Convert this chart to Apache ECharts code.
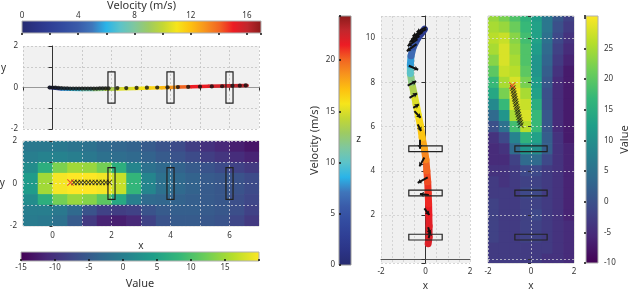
<!DOCTYPE html>
<html><head><meta charset="utf-8">
<script src="https://cdn.jsdelivr.net/npm/echarts@6/dist/echarts.min.js"></script>
<style>html,body{margin:0;padding:0;background:#fff}#c{width:640px;height:307px}</style>
</head><body><div id="c"></div>
<script>
// ---------------- DATA ----------------
// Top-left panel: trajectory (x, y, velocity)
const trajAX = [-0.1, 0.1, 0.3, 0.6, 1.0, 1.4, 1.8, 2.2, 2.8, 3.3, 3.7, 4.0, 4.3, 4.7, 5.3, 6.0, 6.6];
const trajAY = [0, -0.04, -0.07, -0.09, -0.1, -0.1, -0.09, -0.07, -0.05, -0.03, -0.01, 0, 0.02, 0.04, 0.06, 0.08, 0.1];
const trajAV = [1, 3, 5.5, 6.5, 7.5, 8.5, 9.5, 10.5, 11, 11.5, 12.2, 13, 14, 15, 15.5, 16, 16.5];
const dotsAX = [-0.1, 0.0, 0.1, 0.2, 0.3, 0.4, 0.5, 0.6, 0.7, 0.8, 0.9, 1.0, 1.1, 1.2, 1.3, 1.4, 1.5, 1.6, 1.7, 1.8, 1.9, 2.2, 2.5, 2.85, 3.2, 3.55, 3.9, 4.25, 4.6, 5.0, 5.4, 5.75, 6.1, 6.35, 6.55];
const dotsAY = [0, 0, -0.01, -0.02, -0.03, -0.04, -0.04, -0.05, -0.05, -0.05, -0.05, -0.05, -0.05, -0.05, -0.05, -0.05, -0.05, -0.04, -0.04, -0.04, -0.04, -0.03, -0.03, -0.02, -0.01, 0, 0.01, 0.02, 0.03, 0.04, 0.05, 0.06, 0.08, 0.09, 0.1];
// boxes in the horizontal panels (centres along x)
const boxHX = [2, 4, 6];
const boxHHalfW = 0.12, boxHHalfH = 0.75;

// Bottom-left heat map (cell centres and values)
const heatBX = [-0.75, -0.25, 0.25, 0.75, 1.25, 1.75, 2.25, 2.75, 3.25, 3.75, 4.25, 4.75, 5.25, 5.75, 6.25, 6.75];
const heatBY = [1.75, 1.25, 0.75, 0.25, -0.25, -0.75, -1.25, -1.75];
const heatBV = [
  [-1, -1, -1, -1.5, -2, -3, -3.5, -4, -5, -6, -7, -8.5, -10, -11, -12, -13],
  [0, 0.5, 0.5, 0, -1, -2, -2.5, -3, -4, -5, -6, -7, -8.5, -9.5, -10.5, -11.5],
  [2, 7, 13, 15, 14.5, 12.5, 7, 1, -2, -3, -4, -5, -6, -7, -8, -9],
  [4, 15, 19.5, 20, 20, 19.5, 17, 8, 1, -2, -3, -4, -5, -5.5, -6, -7],
  [4, 15, 19.5, 20, 20, 19.5, 17, 8, 1, -2, -3, -4, -5, -5.5, -6, -7],
  [2, 7, 12.5, 14.5, 13.5, 11, 6, 0, -3, -3.5, -4, -4.5, -5, -5.5, -6.5, -7.5],
  [0, 0, -1, -3, -6, -8, -8.5, -8, -6, -5, -4.5, -4.5, -5, -5.5, -6.5, -8],
  [-0.5, -1, -2, -5, -9, -11.5, -12, -11, -8, -6, -5, -5, -5.5, -6, -7.5, -9]
];
const crossBX = [0.73, 0.85, 0.97, 1.09, 1.21, 1.33, 1.45, 1.57, 1.69, 1.81, 1.93];
const crossBY = [0.05, 0.05, 0.05, 0.05, 0.05, 0.05, 0.05, 0.05, 0.05, 0.05, 0.05];
const startB = [0.61, 0.05];

// Middle panel: trajectory (x, z, velocity) and arrows
const trajCX = [0.12, 0.16, 0.16, 0.15, 0.14, 0.12, 0.1, 0.06, 0.02, -0.05, -0.15, -0.22, -0.32, -0.42, -0.52, -0.62, -0.68, -0.68, -0.65, -0.55, -0.35, -0.2, -0.05];
const trajCZ = [0.7, 1.0, 1.5, 2.0, 2.5, 3.0, 3.5, 4.0, 4.5, 5.0, 5.5, 6.0, 6.5, 7.0, 7.5, 8.0, 8.4, 8.8, 9.2, 9.6, 10.0, 10.2, 10.4];
const trajCV = [22, 22, 21.8, 21.5, 21.2, 21, 20.5, 20, 19, 18, 17, 16.3, 15.5, 15, 13.5, 12, 10, 8, 6.5, 5, 3.5, 2.5, 2];
const arrX0 = [0.04, 0.04, -0.13, -0.27, -0.36, -0.4, -0.75, -0.8, -0.72, -0.55, -0.5, -0.35, -0.25, -0.05, 0.1, 0.15, -0.05, 0.12, 0.14];
const arrZ0 = [10.5, 10.41, 10.27, 10.09, 9.95, 9.73, 8.75, 7.85, 7.3, 6.85, 6.7, 6.1, 5.4, 4.6, 3.7, 2.9, 2.3, 1.45, 0.95];
const arrX1 = [-0.4, -0.58, -0.62, -0.71, -0.8, -0.84, -0.33, -0.42, -0.38, -0.3, -0.22, -0.2, -0.25, -0.27, -0.35, -0.25, 0.17, 0.2, 0.22];
const arrZ1 = [10.27, 10.09, 9.95, 9.82, 9.64, 9.41, 8.57, 8.05, 7.5, 7.0, 6.4, 5.8, 5.0, 4.2, 3.45, 2.95, 2.0, 1.15, 1.25];
// boxes in the vertical panels (centres along z)
const boxVZ = [5, 3, 1];
const boxVHalfW = 0.75, boxVHalfH = 0.13;

// Right panel heat map
const heatDX = [-1.75, -1.25, -0.75, -0.25, 0.25, 0.75, 1.25, 1.75];
const heatDZ = [11, 10.5, 10, 9.5, 9, 8.5, 8, 7.5, 7, 6.5, 6, 5.5, 5, 4.5, 4, 3.5, 3, 2.5, 2, 1.5, 1, 0.5, 0];
const heatDV = [
  [24, 22, 19, 16, 12, 6, 1, -2],
  [25, 24, 21, 17, 13, 6, 0, -3],
  [26, 27, 23, 18, 13, 5, -1, -4],
  [25, 28, 24, 19, 12, 4, -2, -5],
  [23, 28, 25, 19, 11, 3, -3, -6],
  [20, 27, 26, 20, 11, 2, -4, -7],
  [17, 25, 28, 22, 12, 1, -5, -7],
  [14, 22, 29, 25, 13, 0, -5, -7],
  [9, 17, 28, 27, 15, 0, -5, -7],
  [4, 11, 25, 28, 17, 1, -5, -7],
  [0, 5, 18, 26, 17, 1, -5, -7],
  [-4, -1, 8, 16, 13, 2, -4, -7],
  [-5, -4, 4, 11, 10, 2, -4, -6],
  [-5, -5, -2, 4, 4, -1, -4, -6],
  [-4, -4, -3, -1, -1, -3, -4, -6],
  [-3, -4, -3, -2, -2, -3, -4, -6],
  [-3, -3, -3, -1, -1, -3, -4, -6],
  [-2, -3, -3, -2, -2, -3, -4, -6],
  [-2, -3, -3, -2, -1, -3, -4, -6],
  [-2, -3, -3, -2, -2, -3, -4, -5],
  [-2, -3, -3, -2, -2, -3, -4, -5],
  [-3, -3, -3, -3, -3, -3, -4, -5],
  [-3, -3, -3, -3, -3, -4, -4, -5]
];
const crossDX = [-0.85, -0.82, -0.8, -0.77, -0.75, -0.72, -0.7, -0.67, -0.64, -0.62, -0.59, -0.56, -0.53, -0.5, -0.47];
const crossDZ = [7.74, 7.62, 7.5, 7.38, 7.26, 7.14, 7.02, 6.9, 6.78, 6.66, 6.54, 6.42, 6.3, 6.18, 6.06];
const startD = [-0.87, 7.86];

// Tick labels
const ticksVelTop = [0, 4, 8, 12, 16];
const ticksValBottom = [-15, -10, -5, 0, 5, 10, 15];
const ticksVelMid = [0, 5, 10, 15, 20];
const ticksValRight = [-10, -5, 0, 5, 10, 15, 20, 25];
const ticksXLeft = [0, 2, 4, 6];
const ticksYLeft = [-2, 0, 2];
const ticksXRight = [-2, 0, 2];
const ticksZ = [2, 4, 6, 8, 10];
// colour-scale ranges
const velTopRange = [0, 17], valBottomRange = [-15, 20], velMidRange = [0, 24.3], valRightRange = [-10, 30.3];

// ---------------- STYLE ----------------
const FONT = 'Noto Sans';
const TXT = '#333';
const jet = ['#262b70','#2b3486','#2f3f95','#334ca0','#3a5ba9','#3f76bb','#2ab4e8','#5cc3c9','#7fc79e','#9dcb63','#c3d734','#f6e51b','#fdc010','#f7941d','#f26522','#ed1c24','#c1272d','#8b1a1a'];
const viridis = ['#440154','#482878','#3e4989','#31688e','#26828e','#1f9e89','#35b779','#6ece58','#b5de2b','#fde725'];
function grad(colors, vertical) {
  const n = colors.length;
  return new echarts.graphic.LinearGradient(0, vertical ? 1 : 0, vertical ? 0 : 1, 0,
    colors.map((c, i) => ({ offset: i / (n - 1), color: c })));
}
const only = list => v => { const r = Math.round(v * 1000) / 1000; return list.indexOf(r) >= 0 ? String(r === 0 ? 0 : r) : ''; };
const lbl = (list, extra) => Object.assign({ show: true, formatter: only(list), fontSize: 8, color: TXT, fontFamily: FONT, margin: 5 }, extra || {});
const dashed = (c) => ({ show: true, lineStyle: { type: [2, 2], color: c, width: 0.8 } });

// ---------------- BUILD SERIES DATA ----------------
const segA = []; for (let i = 0; i < trajAX.length - 1; i++) segA.push([trajAX[i], trajAY[i], trajAX[i + 1], trajAY[i + 1], trajAV[i]]);
const segC = []; for (let i = 0; i < trajCX.length - 1; i++) segC.push([trajCX[i], trajCZ[i], trajCX[i + 1], trajCZ[i + 1], trajCV[i]]);
const heatB = []; heatBY.forEach((y, r) => heatBX.forEach((x, c) => heatB.push([x, y, heatBV[r][c]])));
const heatD = []; heatDZ.forEach((z, r) => heatDX.forEach((x, c) => heatD.push([x, z, heatDV[r][c]])));
const boxesH = boxHX.map(x => [x - boxHHalfW, -boxHHalfH, x + boxHHalfW, boxHHalfH]);
const boxesV = boxVZ.map(z => [-boxVHalfW, z - boxVHalfH, boxVHalfW, z + boxVHalfH]);
const arrows = arrX0.map((x, i) => ({ coords: [[x, arrZ0[i]], [arrX1[i], arrZ1[i]]] }));
const dotsA = dotsAX.map((x, i) => [x, dotsAY[i]]);
const crossB = crossBX.map((x, i) => [x, crossBY[i]]);
const crossD = crossDX.map((x, i) => [x, crossDZ[i]]);

function heatRender(dx, dy) {
  return function (params, api) {
    const x = api.value(0), y = api.value(1);
    const p0 = api.coord([x - dx / 2, y + dy / 2]);
    const p1 = api.coord([x + dx / 2, y - dy / 2]);
    return { type: 'rect', shape: { x: p0[0], y: p0[1], width: p1[0] - p0[0] + 0.7, height: p1[1] - p0[1] + 0.7 }, style: { fill: api.visual('color') } };
  };
}
function segRender(w) {
  return function (params, api) {
    const a = api.coord([api.value(0), api.value(1)]), b = api.coord([api.value(2), api.value(3)]);
    return { type: 'line', shape: { x1: a[0], y1: a[1], x2: b[0], y2: b[1] }, style: { stroke: api.visual('color'), lineWidth: w, lineCap: 'round' } };
  };
}
function boxRender(params, api) {
  const a = api.coord([api.value(0), api.value(3)]), b = api.coord([api.value(2), api.value(1)]);
  return { type: 'rect', shape: { x: a[0], y: a[1], width: b[0] - a[0], height: b[1] - a[1] }, style: { fill: 'none', stroke: '#222', lineWidth: 1.2 } };
}
const XSYM = 'path://M0,1L1,0L5,4L9,0L10,1L6,5L10,9L9,10L5,6L1,10L0,9L4,5Z';

const gridBase = { containLabel: false, outerBoundsMode: 'none' };
const chart = echarts.init(document.getElementById('c'), null, { renderer: 'canvas' });
const hidden = (gi) => ({ gridIndex: gi, type: 'value', show: false, min: 0, max: 1 });
const nameStyle = (s) => ({ fontSize: s, color: TXT, fontFamily: FONT });

chart.setOption({
  animation: false,
  textStyle: { fontFamily: FONT },
  graphic: [
    { type: 'text', left: 1, top: 63, style: { text: 'y', fontSize: 10, fill: TXT, fontFamily: FONT } }
  ],
  grid: [
    Object.assign({ left: 23, top: 46, width: 236, height: 83, show: true, backgroundColor: '#f1f1f1', borderWidth: 0 }, gridBase),
    Object.assign({ left: 23, top: 141, width: 236, height: 85, show: true, backgroundColor: 'transparent', borderColor: '#c8c8c8', borderWidth: 1 }, gridBase),
    Object.assign({ left: 381, top: 16, width: 89, height: 247, show: true, backgroundColor: '#f0f0f0', borderWidth: 0 }, gridBase),
    Object.assign({ left: 488, top: 16, width: 86, height: 247, show: true, backgroundColor: 'transparent', borderColor: '#c8c8c8', borderWidth: 1 }, gridBase),
    Object.assign({ left: 22, top: 21, width: 239, height: 12, show: true, backgroundColor: grad(jet, false), borderColor: '#b0b0b0', borderWidth: 1 }, gridBase),
    Object.assign({ left: 21, top: 252, width: 238, height: 9, show: true, backgroundColor: grad(viridis, false), borderColor: '#b0b0b0', borderWidth: 1 }, gridBase),
    Object.assign({ left: 339, top: 16, width: 12, height: 249, show: true, backgroundColor: grad(jet, true), borderColor: '#999', borderWidth: 1 }, gridBase),
    Object.assign({ left: 586, top: 16, width: 12, height: 247, show: true, backgroundColor: grad(viridis, true), borderColor: '#b0b0b0', borderWidth: 1 }, gridBase)
  ],
  xAxis: [
    { gridIndex: 0, type: 'value', min: -1, max: 7, interval: 1, axisLine: { show: true, lineStyle: { color: '#999' } }, axisTick: { show: true, length: 3, lineStyle: { color: '#333' } }, axisLabel: { show: false }, splitLine: dashed('#c2c2c2') },
    { gridIndex: 1, type: 'value', min: -1, max: 7, interval: 1, z: 3, axisLine: { show: false }, axisTick: { show: false }, axisLabel: lbl(ticksXLeft, { margin: 6 }), splitLine: dashed('rgba(235,235,235,0.8)'),
      name: 'x', nameLocation: 'middle', nameGap: 14, nameTextStyle: nameStyle(10) },
    { gridIndex: 2, type: 'value', min: -2, max: 2, interval: 0.5, axisLine: { show: true, lineStyle: { color: '#555' } }, axisTick: { show: false }, axisLabel: lbl(ticksXRight, { margin: 5 }), splitLine: dashed('#cdcdcd'),
      name: 'x', nameLocation: 'middle', nameGap: 15, nameTextStyle: nameStyle(10) },
    { gridIndex: 3, type: 'value', min: -2, max: 2, interval: 2, z: 3, axisLine: { show: false }, axisTick: { show: false }, axisLabel: lbl(ticksXRight, { margin: 5 }), splitLine: dashed('rgba(225,225,225,0.85)'),
      name: 'x', nameLocation: 'middle', nameGap: 15, nameTextStyle: nameStyle(10) },
    { gridIndex: 4, type: 'value', min: velTopRange[0], max: velTopRange[1], interval: 2, position: 'top', axisLine: { show: false }, axisTick: { show: true, inside: true, length: 2, lineStyle: { color: '#111', width: 1.5 } }, axisLabel: lbl(ticksVelTop, { margin: 1 }), splitLine: { show: false },
      name: 'Velocity (m/s)', nameLocation: 'middle', nameGap: 10, nameTextStyle: nameStyle(11) },
    { gridIndex: 5, type: 'value', min: valBottomRange[0], max: valBottomRange[1], interval: 5, position: 'bottom', axisLine: { show: false }, axisTick: { show: true, inside: true, length: 2, lineStyle: { color: '#111', width: 1.5 } }, axisLabel: lbl(ticksValBottom, { margin: 3 }), splitLine: { show: false },
      name: 'Value', nameLocation: 'middle', nameGap: 17, nameTextStyle: nameStyle(11) },
    hidden(6), hidden(7)
  ],
  yAxis: [
    { gridIndex: 0, type: 'value', min: -2, max: 2, interval: 1, axisLine: { show: true, lineStyle: { color: '#333' } }, axisTick: { show: true, length: 4, lineStyle: { color: '#333' } }, axisLabel: lbl(ticksYLeft, { margin: 5 }), splitLine: dashed('#c2c2c2') },
    { gridIndex: 1, type: 'value', min: -2, max: 2, interval: 1, z: 3, axisLine: { show: false }, axisTick: { show: true, length: 3, lineStyle: { color: '#333' } }, axisLabel: lbl(ticksYLeft, { margin: 6 }), splitLine: dashed('rgba(235,235,235,0.8)'),
      name: 'y', nameLocation: 'middle', nameRotate: 0, nameGap: 17, nameTextStyle: Object.assign(nameStyle(10), { padding: [0, 0, 6, 0] }) },
    { gridIndex: 2, type: 'value', min: -0.17, max: 11, splitNumber: 5, axisLine: { show: true, lineStyle: { color: '#333' } }, axisTick: { show: true, length: 4, lineStyle: { color: '#333' } }, axisLabel: lbl(ticksZ, { margin: 6 }), splitLine: dashed('#cdcdcd'),
      name: 'z', nameLocation: 'middle', nameRotate: 0, nameGap: 18, nameTextStyle: nameStyle(10) },
    { gridIndex: 3, type: 'value', min: -0.17, max: 11, splitNumber: 5, z: 3, axisLine: { show: false }, axisTick: { show: true, length: 3, lineStyle: { color: '#333' } }, axisLabel: { show: false }, splitLine: dashed('rgba(225,225,225,0.85)') },
    hidden(4), hidden(5),
    { gridIndex: 6, type: 'value', min: velMidRange[0], max: velMidRange[1], interval: 5, position: 'left', axisLine: { show: false }, axisTick: { show: true, inside: true, length: 2, lineStyle: { color: '#111', width: 1.5 } }, axisLabel: lbl(ticksVelMid, { margin: 4 }), splitLine: { show: false },
      name: 'Velocity (m/s)', nameLocation: 'middle', nameRotate: 90, nameGap: 19, nameTextStyle: nameStyle(11) },
    { gridIndex: 7, type: 'value', min: valRightRange[0], max: valRightRange[1], interval: 5, position: 'right', axisLine: { show: false }, axisTick: { show: true, inside: true, length: 2, lineStyle: { color: '#111', width: 1.5 } }, axisLabel: lbl(ticksValRight, { margin: 6 }), splitLine: { show: false },
      name: 'Value', nameLocation: 'middle', nameRotate: 90, nameGap: 18, nameTextStyle: nameStyle(11) }
  ],
  visualMap: [
    { type: 'continuous', show: false, seriesIndex: 0, dimension: 4, min: velTopRange[0], max: velTopRange[1], inRange: { color: jet } },
    { type: 'continuous', show: false, seriesIndex: 3, dimension: 2, min: valBottomRange[0], max: valBottomRange[1], inRange: { color: viridis } },
    { type: 'continuous', show: false, seriesIndex: 7, dimension: 4, min: velMidRange[0], max: velMidRange[1], inRange: { color: jet } },
    { type: 'continuous', show: false, seriesIndex: 10, dimension: 2, min: valRightRange[0], max: valRightRange[1], inRange: { color: viridis } }
  ],
  series: [
    { type: 'custom', xAxisIndex: 0, yAxisIndex: 0, renderItem: segRender(3.5), data: segA, z: 3, clip: true },
    { type: 'scatter', xAxisIndex: 0, yAxisIndex: 0, data: dotsA, symbolSize: 4.2, itemStyle: { color: '#111' }, z: 4 },
    { type: 'custom', xAxisIndex: 0, yAxisIndex: 0, renderItem: boxRender, data: boxesH, z: 5 },
    { type: 'custom', xAxisIndex: 1, yAxisIndex: 1, renderItem: heatRender(0.5, 0.5), data: heatB, z: 1, clip: true },
    { type: 'custom', xAxisIndex: 1, yAxisIndex: 1, renderItem: boxRender, data: boxesH, z: 5 },
    { type: 'scatter', xAxisIndex: 1, yAxisIndex: 1, data: crossB, symbol: XSYM, symbolSize: 6, itemStyle: { color: '#111' }, z: 6 },
    { type: 'scatter', xAxisIndex: 1, yAxisIndex: 1, data: [startB], symbol: XSYM, symbolSize: 7, itemStyle: { color: '#e3262a' }, z: 7 },
    { type: 'custom', xAxisIndex: 2, yAxisIndex: 2, renderItem: segRender(7), data: segC, z: 3, clip: true },
    { type: 'lines', coordinateSystem: 'cartesian2d', xAxisIndex: 2, yAxisIndex: 2, data: arrows, symbol: ['none', 'arrow'], symbolSize: 4, lineStyle: { color: '#111', width: 2, opacity: 1 }, z: 4 },
    { type: 'custom', xAxisIndex: 2, yAxisIndex: 2, renderItem: boxRender, data: boxesV, z: 5 },
    { type: 'custom', xAxisIndex: 3, yAxisIndex: 3, renderItem: heatRender(0.5, 0.5), data: heatD, z: 1, clip: true },
    { type: 'custom', xAxisIndex: 3, yAxisIndex: 3, renderItem: boxRender, data: boxesV, z: 5 },
    { type: 'scatter', xAxisIndex: 3, yAxisIndex: 3, data: crossD, symbol: XSYM, symbolSize: 6, itemStyle: { color: '#111' }, z: 6 },
    { type: 'scatter', xAxisIndex: 3, yAxisIndex: 3, data: [startD], symbol: XSYM, symbolSize: 7, itemStyle: { color: '#e3262a' }, z: 7 },
    { type: 'scatter', xAxisIndex: 4, yAxisIndex: 4, data: [] },
    { type: 'scatter', xAxisIndex: 5, yAxisIndex: 5, data: [] },
    { type: 'scatter', xAxisIndex: 6, yAxisIndex: 6, data: [] },
    { type: 'scatter', xAxisIndex: 7, yAxisIndex: 7, data: [] }
  ]
});
</script></body></html>
